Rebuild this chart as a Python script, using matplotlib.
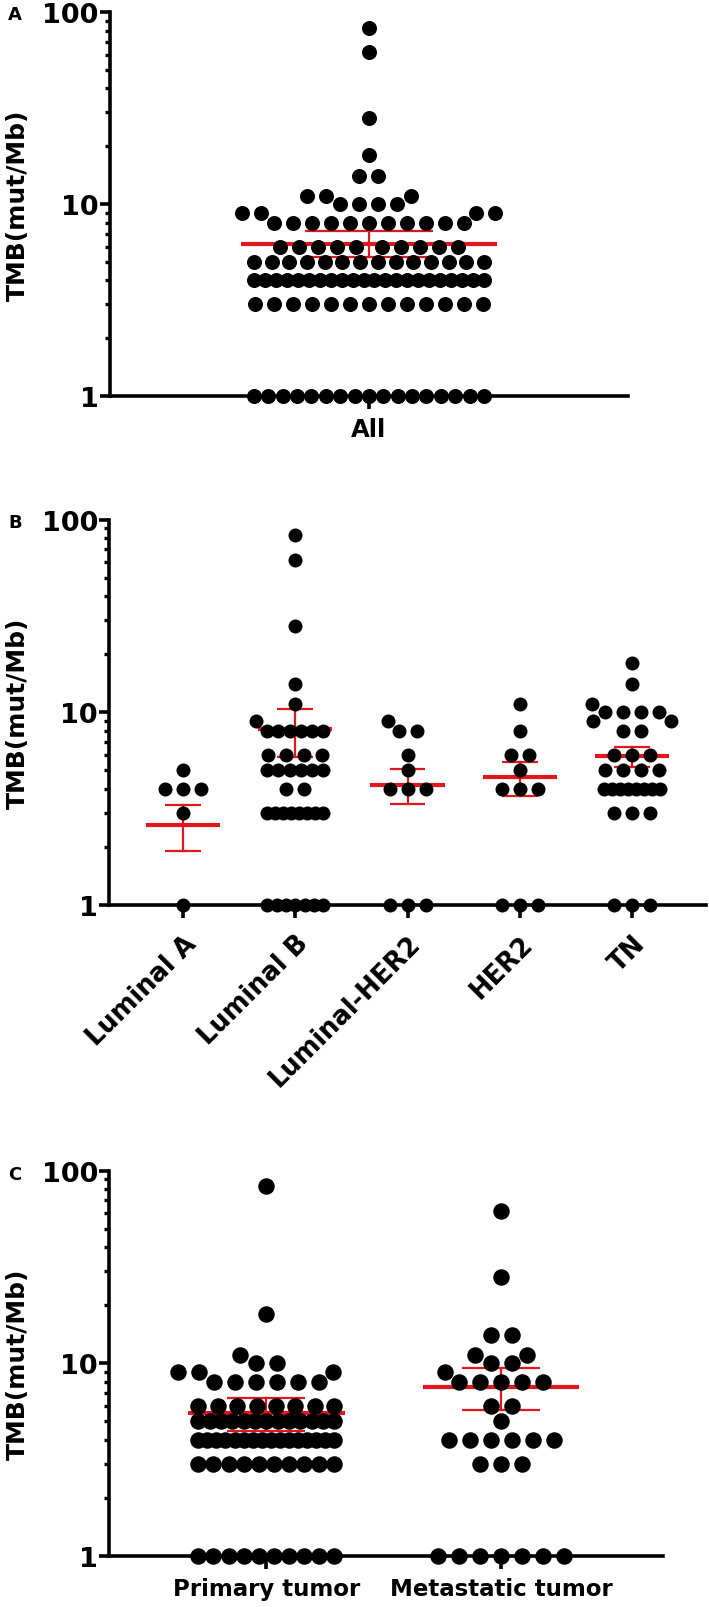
import numpy as np
import matplotlib
matplotlib.use("Agg")
import matplotlib.pyplot as plt
import matplotlib.transforms as mtransforms
from matplotlib.ticker import NullFormatter

plt.rcParams["font.family"] = ["DejaVu Sans"]
plt.rcParams["font.weight"] = "bold"

# dot rows: row value and number of dots in the row
primary_vals = [83, 18, 11, 10, 9, 8, 6, 5, 4, 3, 1]
primary_cnts = [1, 1, 1, 2, 3, 6, 8, 13, 16, 10, 10]
metast_vals = [62, 28, 14, 11, 10, 9, 8, 6, 5, 4, 3, 1]
metast_cnts = [1, 1, 2, 2, 2, 1, 5, 2, 1, 6, 3, 7]

lumA_vals = [5, 4, 3, 1]
lumA_cnts = [1, 3, 1, 1]
lumB_vals = [83, 62, 28, 14, 11, 9, 8, 6, 5, 4, 3, 1]
lumB_cnts = [1, 1, 1, 1, 1, 1, 6, 4, 6, 2, 8, 7]
lumH_vals = [9, 8, 6, 5, 4, 1]
lumH_cnts = [1, 2, 1, 1, 3, 3]
her2_vals = [11, 8, 6, 5, 4, 1]
her2_cnts = [1, 1, 2, 1, 3, 3]
tn_vals = [18, 14, 11, 10, 9, 8, 6, 5, 4, 3, 1]
tn_cnts = [1, 1, 1, 4, 2, 2, 3, 4, 8, 3, 3]

subtypes = ["Luminal A", "Luminal B", "Luminal-HER2", "HER2", "TN"]
sites = ["Primary tumor", "Metastatic tumor"]

# mean and SEM limits (red bars)
all_mean, all_lo, all_hi = 6.2, 5.3, 7.2
sub_mean = [2.6, 8.2, 4.2, 4.6, 5.9]
sub_lo = [1.9, 5.85, 3.35, 3.7, 5.2]
sub_hi = [3.3, 10.4, 5.1, 5.5, 6.6]
site_mean = [5.5, 7.5]
site_lo = [4.45, 5.7]
site_hi = [6.6, 9.45]

# "All" = primary + metastatic
all_rows = {}
for v, n in list(zip(primary_vals, primary_cnts)) + list(zip(metast_vals, metast_cnts)):
    all_rows[v] = all_rows.get(v, 0) + n
all_vals = list(all_rows.keys())
all_cnts = list(all_rows.values())

RED = "#e2161d"
W, H = 709, 1608
fig = plt.figure(figsize=(W / 100, H / 100), dpi=100)


def add_axes(left, right, top, bottom):
    return fig.add_axes([left / W, 1 - bottom / H, (right - left) / W, (bottom - top) / H])


def style(ax, xlim):
    ax.set_yscale("log")
    ax.set_ylim(1, 100)
    ax.set_xlim(*xlim)
    for sp in ["top", "right"]:
        ax.spines[sp].set_visible(False)
    for sp in ["left", "bottom"]:
        ax.spines[sp].set_linewidth(2.6)
    ax.set_yticks([1, 10, 100], labels=["1", "10", "100"])
    ax.set_yticks([2, 3, 4, 5, 6, 7, 8, 9, 20, 30, 40, 50, 60, 70, 80, 90], minor=True)
    ax.yaxis.set_minor_formatter(NullFormatter())
    ax.tick_params(axis="y", which="major", length=7.5, width=2.6, labelsize=19.5, pad=0.5)
    ax.tick_params(axis="y", which="minor", length=3.5, width=2.4)
    ax.tick_params(axis="x", which="major", length=9, width=2.6, pad=6)
    ax.tick_params(axis="x", which="minor", bottom=False)
    ax.set_ylabel("TMB(mut/Mb)", fontsize=18, fontweight="bold", va="center")
    tr = mtransforms.blended_transform_factory(fig.transFigure, ax.transAxes)
    ax.yaxis.set_label_coords(18 / W, 0.5, transform=tr)


def gap_variants(n, sp, g):
    out = []
    for left in sorted({(n + 1) // 2, n // 2}, reverse=True):
        xl = -(g + sp / 2 + sp * np.arange(left))
        xr = g + sp / 2 + sp * np.arange(n - left)
        out.append(np.concatenate([xl, xr]))
    return out


def draw_group(ax, xc, vals, cnts, d, s, wmax):
    # rows of dots laid out in pixels, bigger rows first, small rows pushed aside
    to_px = ax.transData.transform
    ux = to_px((1, 1))[0] - to_px((0, 1))[0]
    rows = sorted(zip(vals, cnts), key=lambda r: (-r[1], r[0]))
    placed = np.empty((0, 2))
    xs, ys = [], []
    for v, n in rows:
        y = to_px((0, v))[1]
        sp = s if (n - 1) * s <= 2 * wmax else 2 * wmax / (n - 1)
        best = (np.arange(n) - (n - 1) / 2) * sp
        if sp == s and len(placed):
            found = None
            for g in np.arange(0, 400, 0.5):
                cands = [best] if g == 0 else gap_variants(n, sp, g)
                for c in cands:
                    dist = np.hypot(c[:, None] - placed[:, 0], y - placed[:, 1])
                    if dist.min() >= 1.05 * d:
                        found = c
                        break
                if found is not None:
                    break
            if found is not None:
                best = found
        placed = np.vstack([placed, np.column_stack([best, np.full(n, y)])])
        xs += list(xc + best / ux)
        ys += [v] * n
    ax.scatter(xs, ys, s=(d * 0.72) ** 2, c="black", linewidths=0, zorder=3, clip_on=False)


def draw_stats(ax, xs, means, los, his, mw, cw):
    for x, m, lo, hi in zip(xs, means, los, his):
        ax.plot([x - mw, x + mw], [m, m], color=RED, lw=3, solid_capstyle="butt", zorder=2)
        ax.plot([x, x], [lo, hi], color=RED, lw=1.6, zorder=2)
        ax.plot([x - cw, x + cw], [lo, lo], color=RED, lw=1.6, solid_capstyle="butt", zorder=2)
        ax.plot([x - cw, x + cw], [hi, hi], color=RED, lw=1.6, solid_capstyle="butt", zorder=2)


# panel A
axA = add_axes(109.6, 628.4, 13, 397)
style(axA, (-1, 1))
axA.set_xticks([0], labels=["All"], fontsize=17.5)
draw_stats(axA, [0], [all_mean], [all_lo], [all_hi], 0.494, 0.247)
draw_group(axA, 0, all_vals, all_cnts, d=15, s=19, wmax=115)

# panel B
axB = add_axes(109, 706, 520.6, 906)
style(axB, (-0.66, 4.66))
axB.set_xticks(range(len(subtypes)))
axB.set_xticklabels(subtypes, rotation=45, ha="right", rotation_mode="anchor", fontsize=18.5)
axB.tick_params(axis="x", pad=9)
draw_stats(axB, range(5), sub_mean, sub_lo, sub_hi, 0.33, 0.16)
groups_B = [(lumA_vals, lumA_cnts), (lumB_vals, lumB_cnts), (lumH_vals, lumH_cnts),
            (her2_vals, her2_cnts), (tn_vals, tn_cnts)]
for i, (v, c) in enumerate(groups_B):
    draw_group(axB, i, v, c, d=14, s=18, wmax=28)

# panel C
axC = add_axes(109, 663, 1171.6, 1557)
style(axC, (-0.67, 1.69))
axC.set_xticks([0, 1], labels=sites, fontsize=16.5)
draw_stats(axC, [0, 1], site_mean, site_lo, site_hi, 0.334, 0.166)
draw_group(axC, 0, primary_vals, primary_cnts, d=16.5, s=21, wmax=68)
draw_group(axC, 1, metast_vals, metast_cnts, d=16.5, s=21, wmax=68)

for letter, ypx in [("A", 15), ("B", 523), ("C", 1175)]:
    fig.text(15 / W, 1 - ypx / H, letter, fontsize=13, fontweight="bold", ha="center", va="center")

fig.savefig("out.png", dpi=100)
